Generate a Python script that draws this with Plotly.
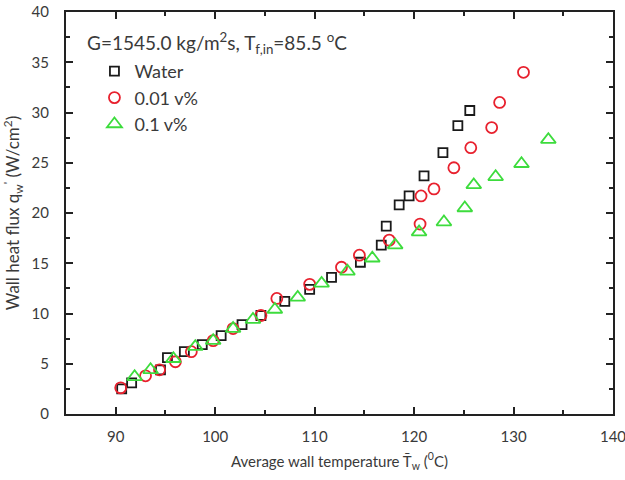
import plotly.graph_objects as go

# Data
water_x = [90.6, 91.6, 94.5, 95.2, 96.9, 98.7, 100.6, 102.7, 104.6, 107.0, 109.5, 111.7,
           114.6, 116.7, 117.2, 118.5, 119.5, 121.0, 122.9, 124.4, 125.6]
water_y = [2.5, 3.1, 4.4, 5.6, 6.2, 6.9, 7.8, 8.9, 9.8, 11.2, 12.4, 13.6,
           15.1, 16.8, 18.7, 20.8, 21.7, 23.7, 26.0, 28.7, 30.2]

nf001_x = [90.5, 93.0, 94.4, 96.0, 97.6, 99.8, 101.8, 104.6, 106.2, 109.5, 112.7,
           114.5, 117.5, 120.6, 120.7, 122.0, 124.0, 125.7, 127.8, 128.6, 131.0]
nf001_y = [2.6, 3.8, 4.4, 5.2, 6.2, 7.3, 8.5, 9.8, 11.5, 12.9, 14.6,
           15.8, 17.3, 18.9, 21.7, 22.4, 24.5, 26.5, 28.5, 31.0, 34.0]

nf01_x = [91.9, 93.5, 95.8, 98.0, 99.8, 101.8, 103.8, 106.0, 108.3, 110.7, 113.3,
          115.8, 118.1, 120.5, 123.0, 125.1, 126.0, 128.2, 130.8, 133.5]
nf01_y = [3.7, 4.4, 5.5, 6.7, 7.3, 8.5, 9.4, 10.4, 11.6, 13.0, 14.2,
          15.5, 16.8, 18.1, 19.1, 20.5, 22.8, 23.6, 24.9, 27.3]

series_names = ["Water", "0.01 v%", "0.1 v%"]
x_ticks = [90, 100, 110, 120, 130, 140]
y_ticks = [0, 5, 10, 15, 20, 25, 30, 35, 40]

FONT = "Lato, Open Sans, sans-serif"
TXT = "#3a3a3a"

fig = go.Figure()
fig.add_trace(go.Scatter(x=water_x, y=water_y, mode="markers", name=series_names[0],
                         marker=dict(symbol="square-open", size=9, color="#1a1a1a",
                                     line=dict(width=1.8, color="#1a1a1a"))))
fig.add_trace(go.Scatter(x=nf001_x, y=nf001_y, mode="markers", name=series_names[1],
                         marker=dict(symbol="circle-open", size=11, color="#e8212e",
                                     line=dict(width=1.8, color="#e8212e"))))
fig.add_trace(go.Scatter(x=nf01_x, y=nf01_y, mode="markers", name=series_names[2],
                         marker=dict(symbol="triangle-up-open", size=13, color="#3ddc3d",
                                     line=dict(width=1.8, color="#3ddc3d"))))

fig.add_annotation(x=0.035, y=0.922, xref="paper", yref="paper", xanchor="left", yanchor="middle",
                   text="G=1545.0 kg/m<sup>2</sup>s, T<sub>f,in</sub>=85.5 <sup>o</sup>C",
                   showarrow=False, font=dict(family=FONT, size=19, color=TXT))

fig.update_layout(
    width=625, height=480,
    margin=dict(l=66, r=12, t=12, b=66, autoexpand=False),
    paper_bgcolor="white", plot_bgcolor="white",
    font=dict(family=FONT, size=15, color=TXT),
    legend=dict(x=0.052, y=0.898, xanchor="left", yanchor="top", bgcolor="rgba(0,0,0,0)",
                font=dict(family=FONT, size=18, color=TXT), tracegroupgap=0, itemwidth=30),
    showlegend=True,
)
fig.update_xaxes(range=[85, 140], tickvals=x_ticks, ticks="inside", ticklen=7, tickwidth=1.5,
                 tickcolor="#222", showline=True, linecolor="#222", linewidth=2, mirror="ticks",
                 showgrid=False, zeroline=False, automargin=False, ticklabeloverflow="allow",
                 ticklabelstandoff=8,
                 minor=dict(dtick=5, tick0=85, ticks="inside", ticklen=4, tickwidth=1.5, tickcolor="#222"),
                 tickfont=dict(family=FONT, size=15, color=TXT),
                 title=dict(text="Average wall temperature T\u0304<sub>w</sub> (<sup>0</sup>C)",
                            font=dict(family=FONT, size=15, color=TXT), standoff=12))
fig.update_yaxes(range=[0, 40], tickvals=y_ticks, ticks="inside", ticklen=7, tickwidth=1.5,
                 tickcolor="#222", showline=True, linecolor="#222", linewidth=2, mirror="ticks",
                 showgrid=False, zeroline=False, automargin=False, ticklabeloverflow="allow",
                 ticklabelstandoff=12,
                 minor=dict(dtick=2.5, tick0=0, ticks="inside", ticklen=4, tickwidth=1.5, tickcolor="#222"),
                 tickfont=dict(family=FONT, size=15, color=TXT),
                 title=dict(text="Wall heat flux q<sub>w</sub><sup>'</sup> (W/cm<sup>2</sup>)",
                            font=dict(family=FONT, size=17, color=TXT), standoff=10))

# remove the browser's default 8px body margin so the figure sits at the page origin
fig.write_html("out.html", config={"displayModeBar": False},
               post_script="document.body.style.margin='0';")
